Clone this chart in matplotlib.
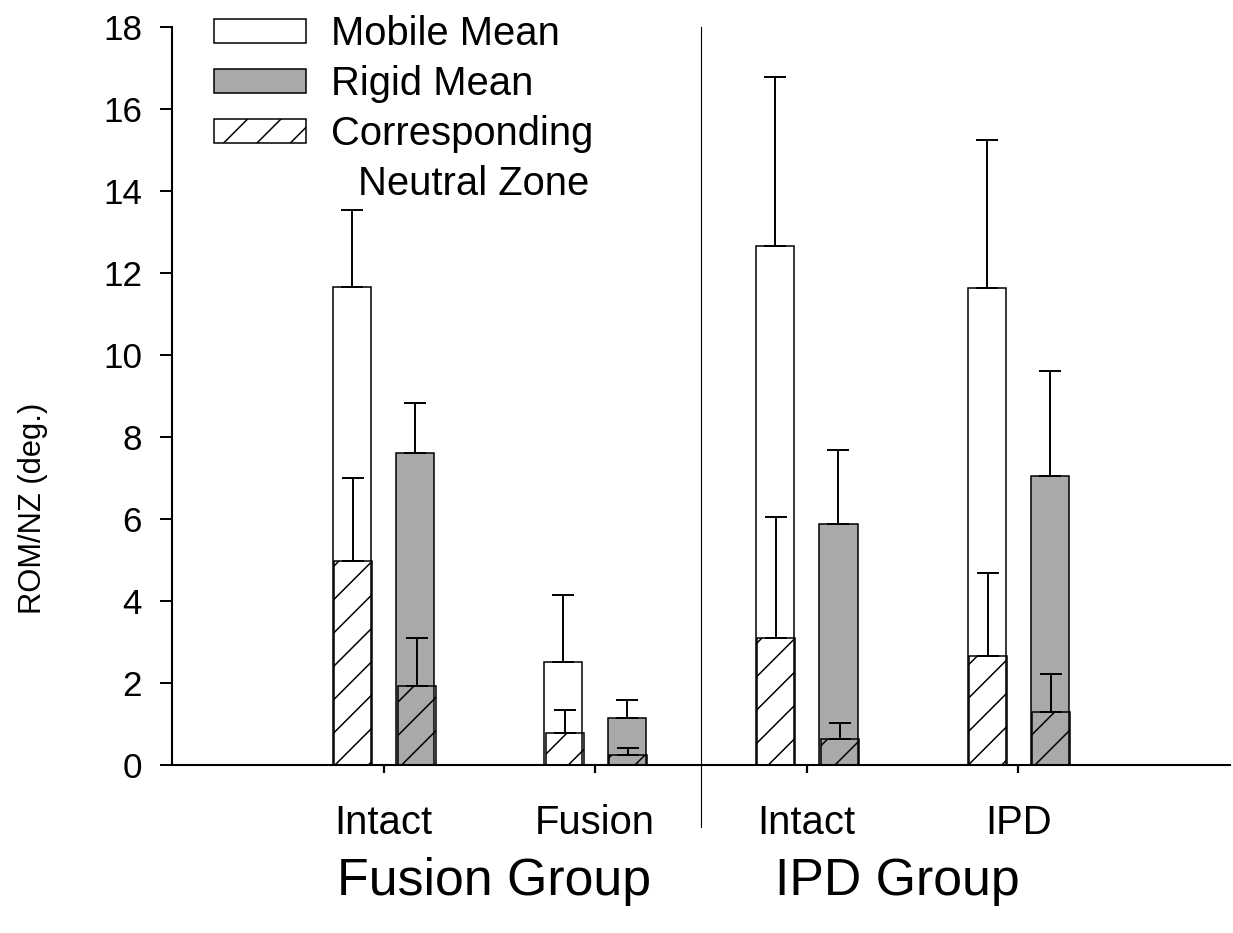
import numpy as np
import matplotlib
matplotlib.use("Agg")
import matplotlib.pyplot as plt
from matplotlib.patches import Patch

plt.rcParams['font.family'] = ['Liberation Sans', 'DejaVu Sans']
plt.rcParams['hatch.linewidth'] = 0.55

# conditions (x tick labels) and group names
conditions = ["Intact", "Fusion", "Intact", "IPD"]
groups = ["Fusion Group", "IPD Group"]

# mean ROM and +SD (deg.)
mobile_mean = [11.65, 2.51, 12.65, 11.63]
mobile_sd = [1.90, 1.64, 4.13, 3.62]
mobile_nz = [4.97, 0.78, 3.11, 2.65]
mobile_nz_sd = [2.03, 0.57, 2.93, 2.03]

rigid_mean = [7.62, 1.14, 5.88, 7.05]
rigid_sd = [1.20, 0.44, 1.80, 2.55]
rigid_nz = [1.93, 0.25, 0.63, 1.30]
rigid_nz_sd = [1.17, 0.16, 0.39, 0.93]

gray = "#a9a9a9"
x = np.arange(1, len(conditions) + 1)
w = 0.18
off = 0.15
nz_shift = 0.006

fig = plt.figure(figsize=(6.165, 4.665), dpi=200)
ax = fig.add_axes([0.1395, 0.18, 0.858, 0.791])

ax.bar(x - off, mobile_mean, w, color="white", edgecolor="black", linewidth=0.55, zorder=2)
ax.bar(x + off, rigid_mean, w, color=gray, edgecolor="black", linewidth=0.55, zorder=2)
ax.bar(x - off + nz_shift, mobile_nz, w, color="none", edgecolor="black", linewidth=0.55,
       hatch="//", zorder=3)
ax.bar(x + off + nz_shift, rigid_nz, w, color="none", edgecolor="black", linewidth=0.55,
       hatch="//", zorder=3)

ekw = dict(fmt="none", ecolor="black", elinewidth=0.7, capsize=3.9, capthick=0.7, zorder=4)
ax.errorbar(x - off, mobile_mean, yerr=[np.zeros(4), mobile_sd], **ekw)
ax.errorbar(x + off, rigid_mean, yerr=[np.zeros(4), rigid_sd], **ekw)
ax.errorbar(x - off + nz_shift, mobile_nz, yerr=[np.zeros(4), mobile_nz_sd], **ekw)
ax.errorbar(x + off + nz_shift, rigid_nz, yerr=[np.zeros(4), rigid_nz_sd], **ekw)

ax.set_xlim(0, 5)
ax.set_ylim(0, 18)
ax.set_yticks(np.arange(0, 19, 2))
ax.set_xticks(x)
ax.set_xticklabels(conditions, fontsize=14.4)
ax.tick_params(axis="y", labelsize=12.6, length=4.3, width=0.7, pad=6.5)
ax.tick_params(axis="x", length=2.9, width=0.8, pad=11)
ax.set_ylabel("ROM/NZ (deg.)", fontsize=11.1)
ax.yaxis.set_label_coords(-0.117, 0.348)

for s in ["top", "right"]:
    ax.spines[s].set_visible(False)
for s in ["left", "bottom"]:
    ax.spines[s].set_linewidth(0.75)

# separator between the two groups
ax.axvline(2.5, ymin=-0.084, ymax=1.0, color="black", linewidth=0.4, clip_on=False)

# group labels
ax.text(1.52, -2.85, groups[0], ha="center", va="center", fontsize=18.7)
ax.text(3.43, -2.85, groups[1], ha="center", va="center", fontsize=18.7)

handles = [
    Patch(facecolor="white", edgecolor="black", linewidth=0.55, label="Mobile Mean"),
    Patch(facecolor=gray, edgecolor="black", linewidth=0.55, label="Rigid Mean"),
    Patch(facecolor="white", edgecolor="black", linewidth=0.55, hatch="//", label="Corresponding"),
]
ax.legend(handles=handles, loc="upper left", bbox_to_anchor=(0.04, 1.016), frameon=False,
          fontsize=14.4, handlelength=2.3, handleheight=0.55, handletextpad=0.62,
          labelspacing=0.3, borderpad=0, borderaxespad=0)
ax.text(0.176, 0.788, "Neutral Zone", transform=ax.transAxes, ha="left", va="center",
        fontsize=14.4)

fig.savefig("out.png", dpi=200)
